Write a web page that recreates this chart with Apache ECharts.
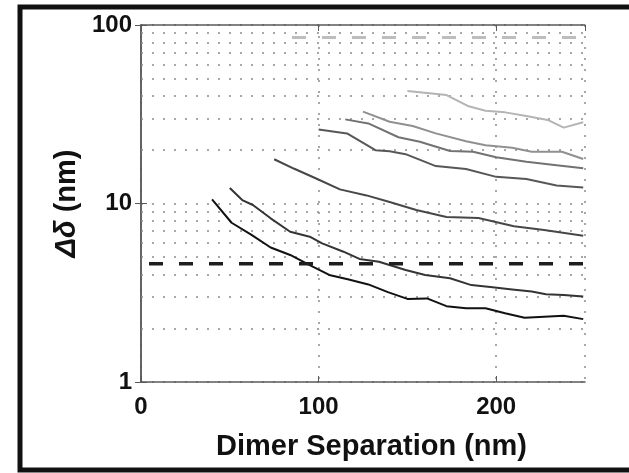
<!DOCTYPE html>
<html>
<head>
<meta charset="utf-8">
<script src="https://cdn.jsdelivr.net/npm/echarts@6/dist/echarts.min.js"></script>
<style>
  html, body { margin: 0; padding: 0; background: #fff; }
  #chart { width: 629px; height: 473px; }
</style>
</head>
<body>
<div id="chart"></div>
<script>
// curves, named by the separation where they start: [separation nm, delta nm]
const curve40 = [[40, 10.56], [51, 7.8], [62, 6.7], [73, 5.67], [84, 5.15], [95, 4.52], [106, 3.98], [117, 3.75],
  [128, 3.52], [139, 3.19], [150, 2.92], [161, 2.94], [172, 2.66], [183, 2.59], [194, 2.59], [205, 2.43],
  [216, 2.29], [227, 2.32], [238, 2.35], [249, 2.25]];
const curve50 = [[50, 12.2], [57, 10.45], [63, 9.81], [73, 8.26], [84, 6.95], [95, 6.52], [102, 5.98], [114, 5.37],
  [123, 4.89], [134, 4.72], [149, 4.24], [160, 3.98], [174, 3.81], [186, 3.49], [198, 3.39], [209, 3.3],
  [220, 3.21], [228, 3.1], [238, 3.07], [249, 3.01]];
const curve75 = [[75, 17.7], [86, 15.7], [98, 13.9], [112, 12.0], [127, 11.1], [140, 10.2], [155, 9.2],
  [172, 8.4], [190, 8.3], [210, 7.45], [227, 7.1], [249, 6.6]];
const curve100 = [[100, 26.0], [116, 24.7], [132, 19.9], [140, 19.6], [149, 18.9], [166, 16.2], [183, 15.6],
  [200, 14.1], [217, 13.7], [234, 12.6], [249, 12.3]];
const curve115 = [[115, 29.6], [128, 28.1], [145, 23.5], [157, 22.2], [174, 19.7], [187, 19.5], [200, 18.15],
  [217, 17.15], [234, 16.4], [249, 15.75]];
const curve125 = [[125, 32.7], [140, 28.7], [153, 27.2], [166, 24.7], [183, 22.3], [194, 21.2], [209, 20.5],
  [220, 19.5], [237, 19.5], [249, 17.75]];
const curve150 = [[150, 42.7], [172, 40.5], [184, 35.2], [194, 33.1], [205, 32.4], [217, 30.9], [229, 29.4],
  [238, 26.6], [249, 28.5]];

// horizontal reference levels
const darkLevel = [[4.5, 4.6], [250, 4.6]];
const lightLevel = [[85, 85], [250, 85]];

// log minor grid positions
const minorY = [2, 3, 4, 5, 6, 7, 8, 9, 20, 30, 40, 50, 60, 70, 80, 90];

const curves = [
  { data: curve40, color: "#111" },
  { data: curve50, color: "#343434" },
  { data: curve75, color: "#474747" },
  { data: curve100, color: "#575757" },
  { data: curve115, color: "#727272" },
  { data: curve125, color: "#909090" },
  { data: curve150, color: "#b4b4b4" }
];

const font = "Liberation Sans, Arial, Helvetica, sans-serif";
const dotted = { type: [2, 9], color: "#8a8a8a", width: 1.5 };
const axisLineStyle = { lineStyle: { color: "#5a5a5a", width: 1.5 } };

function toSerie(c, i) {
  const s = {
    type: "line",
    data: c.data,
    symbol: "none",
    lineStyle: { color: c.color, width: 2 },
    z: 10 + i
  };
  if (i === 0) {
    s.markLine = {
      silent: true,
      symbol: "none",
      label: { show: false },
      lineStyle: dotted,
      z: 1,
      data: minorY.map(v => ({ yAxis: v }))
    };
  }
  return s;
}

const chart = echarts.init(document.getElementById("chart"));
chart.setOption({
  animation: false,
  grid: { left: 141, right: 44, top: 25, bottom: 91 },
  xAxis: [{
    type: "value",
    min: 0,
    max: 250,
    interval: 100,
    position: "bottom",
    axisLine: axisLineStyle,
    axisTick: { inside: true, length: 6, lineStyle: { color: "#5a5a5a" } },
    axisLabel: { fontSize: 24, fontWeight: "bold", color: "#111", fontFamily: font, margin: 13, showMaxLabel: false },
    splitLine: { show: true, lineStyle: dotted },
    name: "Dimer Separation (nm)",
    nameLocation: "middle",
    nameGap: 50,
    nameTextStyle: { fontSize: 29, fontWeight: "bold", color: "#111", fontFamily: font, padding: [0, 0, 0, 17] }
  }, {
    type: "value",
    min: 0,
    max: 250,
    interval: 100,
    position: "top",
    axisLine: axisLineStyle,
    axisTick: { inside: true, length: 6, lineStyle: { color: "#5a5a5a" } },
    axisLabel: { show: false },
    splitLine: { show: false }
  }],
  yAxis: [{
    type: "log",
    logBase: 10,
    min: 1,
    max: 100,
    axisLine: { show: true, lineStyle: { color: "#5a5a5a", width: 1.5 } },
    axisTick: { inside: true, length: 6, lineStyle: { color: "#5a5a5a" } },
    axisLabel: { fontSize: 24, fontWeight: "bold", color: "#111", fontFamily: font, margin: 9 },
    splitLine: { show: true, lineStyle: dotted },
    name: "{i|Δδ} (nm)",
    nameLocation: "middle",
    nameGap: 60,
    nameTextStyle: {
      fontSize: 29, fontWeight: "bold", color: "#111", fontFamily: font,
      rich: { i: { fontSize: 29, fontWeight: "bold", fontStyle: "italic", color: "#111", fontFamily: font } }
    }
  }, {
    type: "log",
    logBase: 10,
    min: 1,
    max: 100,
    position: "right",
    axisLine: { show: true, lineStyle: { color: "#5a5a5a", width: 1.5 } },
    axisTick: { inside: true, length: 6, lineStyle: { color: "#5a5a5a" } },
    axisLabel: { show: false },
    splitLine: { show: false }
  }],
  graphic: [{
    type: "rect",
    shape: { x: 20, y: 7, width: 650, height: 463 },
    style: { fill: null, stroke: "#111", lineWidth: 5 },
    silent: true
  }],
  series: curves.map(toSerie).concat([{
    type: "line",
    data: darkLevel,
    symbol: "none",
    lineStyle: { color: "#1e1e1e", width: 3.5, type: [14, 16] },
    z: 20
  }, {
    type: "line",
    data: lightLevel,
    symbol: "none",
    lineStyle: { color: "#bdbdbd", width: 3, type: [14, 16] },
    z: 20
  }])
});
</script>
</body>
</html>
